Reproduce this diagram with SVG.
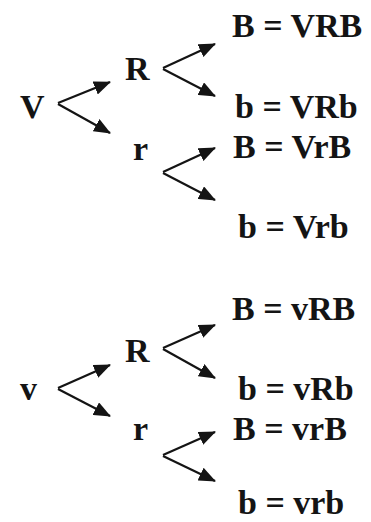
<svg xmlns="http://www.w3.org/2000/svg" width="371" height="522" viewBox="0 0 371 522">
<defs>
<style>
text{font-family:"Liberation Serif","Times New Roman",serif;font-weight:bold;font-size:34px;fill:#141414}
.c line{stroke:#141414;stroke-width:2.2;marker-end:url(#ah)}
</style>
<marker id="ah" markerUnits="userSpaceOnUse" markerWidth="18" markerHeight="14" refX="16" refY="7" orient="auto">
<path d="M0,0 L17,7 L0,14 Z" fill="#141414"/>
</marker>
</defs>
<rect width="371" height="522" fill="#fff"/>
<g class="c" id="connectors">
<line x1="58" y1="103" x2="110" y2="82"/>
<line x1="58" y1="104" x2="110" y2="133"/>
<line x1="163" y1="68" x2="215" y2="44"/>
<line x1="163" y1="69" x2="215" y2="96"/>
<line x1="163" y1="172" x2="215" y2="148"/>
<line x1="163" y1="173" x2="215" y2="200"/>
<line x1="58" y1="388" x2="110" y2="365"/>
<line x1="58" y1="389" x2="110" y2="416"/>
<line x1="163" y1="348" x2="215" y2="325"/>
<line x1="163" y1="349" x2="215" y2="378"/>
<line x1="163" y1="455" x2="215" y2="432"/>
<line x1="163" y1="456" x2="215" y2="481"/>
</g>
<g id="V"><text x="20" y="118">V</text></g>
<g id="VR"><text x="125" y="80">R</text></g>
<g id="Vr"><text x="133" y="160">r</text></g>
<g id="VRB"><text x="232" y="37">B = VRB</text></g>
<g id="VRb"><text x="235" y="118">b = VRb</text></g>
<g id="VrB"><text x="233" y="158">B = VrB</text></g>
<g id="Vrb"><text x="238" y="238">b = Vrb</text></g>
<g id="v"><text x="20" y="400">v</text></g>
<g id="vR"><text x="125" y="362">R</text></g>
<g id="vr"><text x="133" y="440">r</text></g>
<g id="vRB"><text x="232" y="320">B = vRB</text></g>
<g id="vRb"><text x="238" y="400">b = vRb</text></g>
<g id="vrB"><text x="233" y="440">B = vrB</text></g>
<g id="vrb"><text x="238" y="514">b = vrb</text></g>
</svg>
